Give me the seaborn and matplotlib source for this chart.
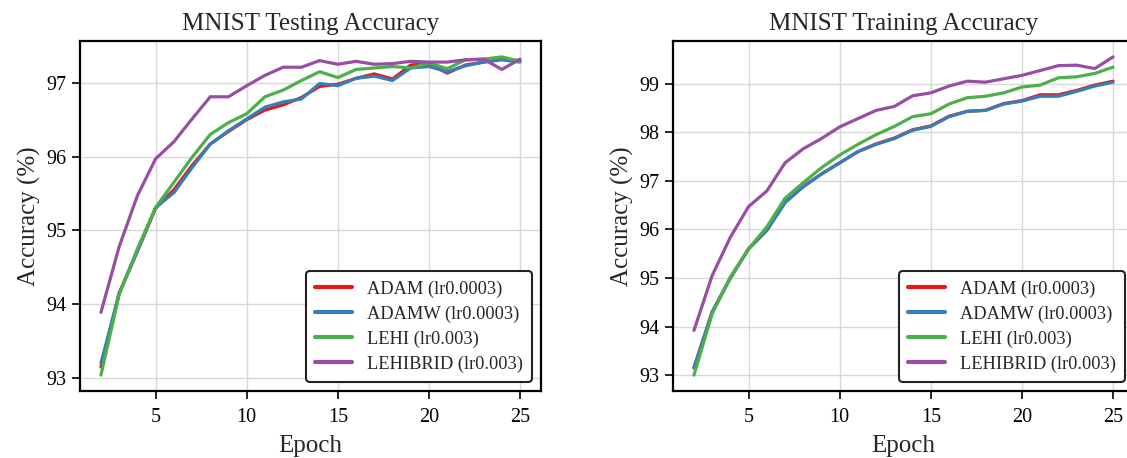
import numpy as np
import pandas as pd
import matplotlib
matplotlib.use("Agg")
import matplotlib.pyplot as plt
import seaborn as sns

epochs = list(range(2, 26))

# Testing accuracy
test_adam = [93.15, 94.15, 94.72, 95.30, 95.55, 95.88, 96.17, 96.34, 96.50, 96.63, 96.70, 96.80,
             96.95, 96.98, 97.06, 97.12, 97.05, 97.24, 97.26, 97.13, 97.24, 97.28, 97.32, 97.30]
test_adamw = [93.20, 94.15, 94.72, 95.31, 95.51, 95.85, 96.17, 96.35, 96.51, 96.67, 96.74, 96.78,
              96.99, 96.96, 97.06, 97.09, 97.03, 97.20, 97.22, 97.15, 97.23, 97.28, 97.31, 97.28]
test_lehi = [93.04, 94.13, 94.75, 95.31, 95.65, 95.99, 96.30, 96.46, 96.58, 96.81, 96.90, 97.03,
             97.15, 97.07, 97.18, 97.20, 97.22, 97.20, 97.27, 97.19, 97.31, 97.32, 97.35, 97.29]
test_lehibrid = [93.89, 94.78, 95.47, 95.97, 96.20, 96.51, 96.81, 96.81, 96.96, 97.10, 97.21, 97.21,
                 97.30, 97.25, 97.29, 97.25, 97.26, 97.29, 97.28, 97.28, 97.31, 97.32, 97.18, 97.32]

# Training accuracy
train_adam = [93.15, 94.30, 95.00, 95.60, 95.98, 96.56, 96.88, 97.14, 97.37, 97.60, 97.76, 97.88,
              98.05, 98.13, 98.33, 98.43, 98.45, 98.59, 98.65, 98.77, 98.77, 98.86, 98.97, 99.05]
train_adamw = [93.15, 94.30, 95.00, 95.60, 95.98, 96.55, 96.88, 97.14, 97.37, 97.60, 97.75, 97.87,
               98.04, 98.12, 98.32, 98.43, 98.45, 98.58, 98.64, 98.74, 98.74, 98.84, 98.95, 99.03]
train_lehi = [93.00, 94.26, 95.02, 95.60, 96.05, 96.64, 96.96, 97.27, 97.53, 97.75, 97.95, 98.12,
              98.32, 98.38, 98.58, 98.71, 98.74, 98.81, 98.93, 98.97, 99.12, 99.14, 99.21, 99.34]
train_lehibrid = [93.92, 95.05, 95.84, 96.47, 96.79, 97.37, 97.66, 97.87, 98.11, 98.28, 98.45, 98.53,
                  98.75, 98.81, 98.95, 99.05, 99.03, 99.10, 99.17, 99.27, 99.37, 99.38, 99.31, 99.55]

labels = ["ADAM (lr0.0003)", "ADAMW (lr0.0003)", "LEHI (lr0.003)", "LEHIBRID (lr0.003)"]
colors = ["#e41a1c", "#377eb8", "#4daf4a", "#984ea3"]
titles = ["MNIST Testing Accuracy", "MNIST Training Accuracy"]


def make_df(series):
    rows = []
    for lab, vals in zip(labels, series):
        for e, v in zip(epochs, vals):
            rows.append({"Epoch": e, "Accuracy": v, "Optimizer": lab})
    return pd.DataFrame(rows)


df_test = make_df([test_adam, test_adamw, test_lehi, test_lehibrid])
df_train = make_df([train_adam, train_adamw, train_lehi, train_lehibrid])

sns.set_theme(style="ticks")
plt.rcParams["font.family"] = ["Liberation Serif", "DejaVu Serif"]
plt.rcParams["mathtext.fontset"] = "stix"

fig = plt.figure(figsize=(11.27, 4.58), dpi=100)
ax1 = fig.add_axes([80 / 1127, 67 / 458, 461 / 1127, 350 / 458])
ax2 = fig.add_axes([673 / 1127, 67 / 458, 461 / 1127, 350 / 458])

for ax, df, title in zip([ax1, ax2], [df_test, df_train], titles):
    sns.lineplot(data=df, x="Epoch", y="Accuracy", hue="Optimizer", palette=colors,
                 linewidth=2.3, ax=ax, legend=True)
    ax.set_title(title, fontsize=18, pad=8)
    ax.set_xlabel("Epoch", fontsize=18, labelpad=6)
    ax.set_ylabel("Accuracy (%)", fontsize=18)
    ax.set_xticks([5, 10, 15, 20, 25])
    ax.tick_params(axis="both", labelsize=14.5, length=6, width=1.2, direction="out", colors="black")
    ax.tick_params(axis="x", pad=6)
    ax.grid(True, color="#d4d4d4", linewidth=1.0, alpha=0.9)
    ax.set_axisbelow(True)
    for sp in ax.spines.values():
        sp.set_visible(True)
        sp.set_linewidth(1.6)
        sp.set_color("black")
    leg = ax.legend(loc="lower right", fontsize=13.2, frameon=True, fancybox=True,
                    edgecolor="#222222", framealpha=1.0, borderpad=0.5, labelspacing=0.42,
                    handlelength=2.0)
    leg.get_frame().set_linewidth(1.5)
    for line in leg.get_lines():
        line.set_linewidth(3)

ax1.set_yticks([93, 94, 95, 96, 97])
ax2.set_yticks([93, 94, 95, 96, 97, 98, 99])

fig.savefig("out.png", dpi=100)
